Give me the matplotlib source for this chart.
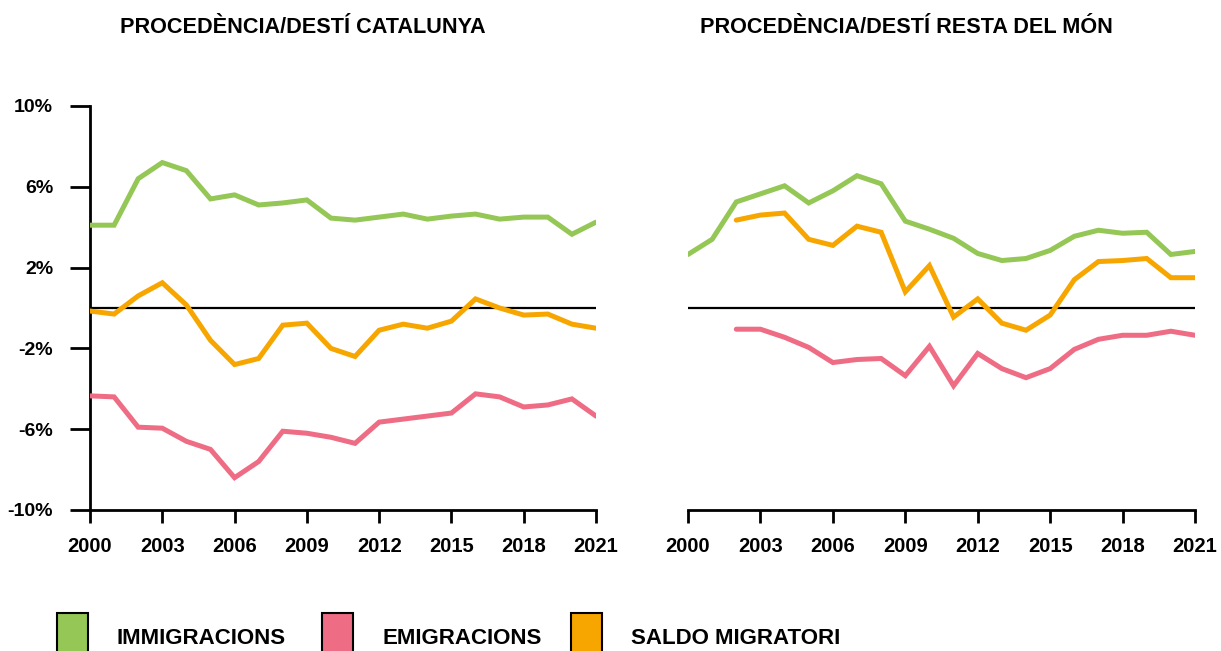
import matplotlib
matplotlib.use('Agg')
import matplotlib.pyplot as plt
from matplotlib.patches import Rectangle

# Dades (% sobre població)
anys = list(range(2000, 2022))
anys_mon = list(range(2002, 2022))

cat_immigracions = [4.1, 4.1, 6.4, 7.2, 6.8, 5.4, 5.6, 5.1, 5.2, 5.35, 4.45, 4.35,
                    4.5, 4.65, 4.4, 4.55, 4.65, 4.4, 4.5, 4.5, 3.65, 4.25]
cat_emigracions = [-4.35, -4.4, -5.9, -5.95, -6.6, -7.0, -8.4, -7.6, -6.1, -6.2, -6.4, -6.7,
                   -5.65, -5.5, -5.35, -5.2, -4.25, -4.4, -4.9, -4.8, -4.5, -5.35]
cat_saldo = [-0.15, -0.3, 0.6, 1.25, 0.15, -1.6, -2.8, -2.5, -0.85, -0.75, -2.0, -2.4,
             -1.1, -0.8, -1.0, -0.65, 0.45, 0.0, -0.35, -0.3, -0.8, -1.0]

mon_immigracions = [2.65, 3.4, 5.25, 5.65, 6.05, 5.2, 5.8, 6.55, 6.15, 4.3, 3.9, 3.45,
                    2.7, 2.35, 2.45, 2.85, 3.55, 3.85, 3.7, 3.75, 2.65, 2.8]
mon_emigracions = [-1.05, -1.05, -1.45, -1.95, -2.7, -2.55, -2.5, -3.35, -1.9, -3.85,
                   -2.25, -3.0, -3.45, -3.0, -2.05, -1.55, -1.35, -1.35, -1.15, -1.35]
mon_saldo = [4.35, 4.6, 4.7, 3.4, 3.1, 4.05, 3.75, 0.8, 2.1, -0.45, 0.45, -0.75,
             -1.1, -0.35, 1.4, 2.3, 2.35, 2.45, 1.5, 1.5]

titols = ['PROCEDÈNCIA/DESTÍ CATALUNYA', 'PROCEDÈNCIA/DESTÍ RESTA DEL MÓN']
etiquetes = ['IMMIGRACIONS', 'EMIGRACIONS', 'SALDO MIGRATORI']
colors = ['#94C756', '#EF6C85', '#F7A600']

x_ticks = [2000, 2003, 2006, 2009, 2012, 2015, 2018, 2021]
y_ticks = [10, 6, 2, -2, -6, -10]

FONT = ['Liberation Sans', 'DejaVu Sans']

fig = plt.figure(figsize=(12.21, 6.51), dpi=100)
ax1 = fig.add_axes([90 / 1221, 1 - 510 / 651, 506 / 1221, 404 / 651])
ax2 = fig.add_axes([688 / 1221, 1 - 510 / 651, 507 / 1221, 404 / 651])

series = [
    (ax1, anys, cat_immigracions, anys, cat_emigracions, anys, cat_saldo),
    (ax2, anys, mon_immigracions, anys_mon, mon_emigracions, anys_mon, mon_saldo),
]

for ax, xi, imm, xe, emi, xs, sal in series:
    ax.plot([2000, 2021], [0, 0], color='black', lw=1.6, zorder=1)
    for xx, yy, col in [(xi, imm, colors[0]), (xe, emi, colors[1]), (xs, sal, colors[2])]:
        ax.plot(xx, yy, color=col, lw=3.6, solid_capstyle='round',
                solid_joinstyle='miter', zorder=3)

    ax.set_xlim(2000, 2021)
    ax.set_ylim(-10, 10)
    ax.set_xticks(x_ticks)
    ax.set_xticklabels([str(t) for t in x_ticks], fontfamily=FONT,
                       fontweight='bold', fontsize=14.5)
    ax.tick_params(axis='x', direction='out', length=9.5, width=2, pad=10)
    for s in ['top', 'right']:
        ax.spines[s].set_visible(False)
    ax.spines['bottom'].set_linewidth(2)
    ax.spines['left'].set_linewidth(2)
    ax.set_facecolor('none')

ax1.set_yticks(y_ticks)
ax1.set_yticklabels([f'{t}%' for t in y_ticks], fontfamily=FONT,
                    fontweight='bold', fontsize=14)
ax1.tick_params(axis='y', direction='out', length=14.5, width=2, pad=12)

ax2.spines['left'].set_visible(False)
ax2.set_yticks([])

fig.text(120 / 1221, 1 - 33 / 651, titols[0], fontfamily=FONT,
         fontweight='bold', fontsize=15.6, ha='left', va='baseline')
fig.text(700 / 1221, 1 - 33 / 651, titols[1], fontfamily=FONT,
         fontweight='bold', fontsize=15.6, ha='left', va='baseline')

# Llegenda
legend_x = [57, 322, 571]
for lx, lab, col in zip(legend_x, etiquetes, colors):
    fig.patches.append(Rectangle((lx / 1221, 1 - 655 / 651), 31 / 1221, 42 / 651,
                                 transform=fig.transFigure, facecolor=col,
                                 edgecolor='black', lw=1.5))
    fig.text((lx + 60) / 1221, 1 - 644 / 651, lab, fontfamily=FONT,
             fontweight='bold', fontsize=16, ha='left', va='baseline')

fig.savefig('out.png', dpi=100)
